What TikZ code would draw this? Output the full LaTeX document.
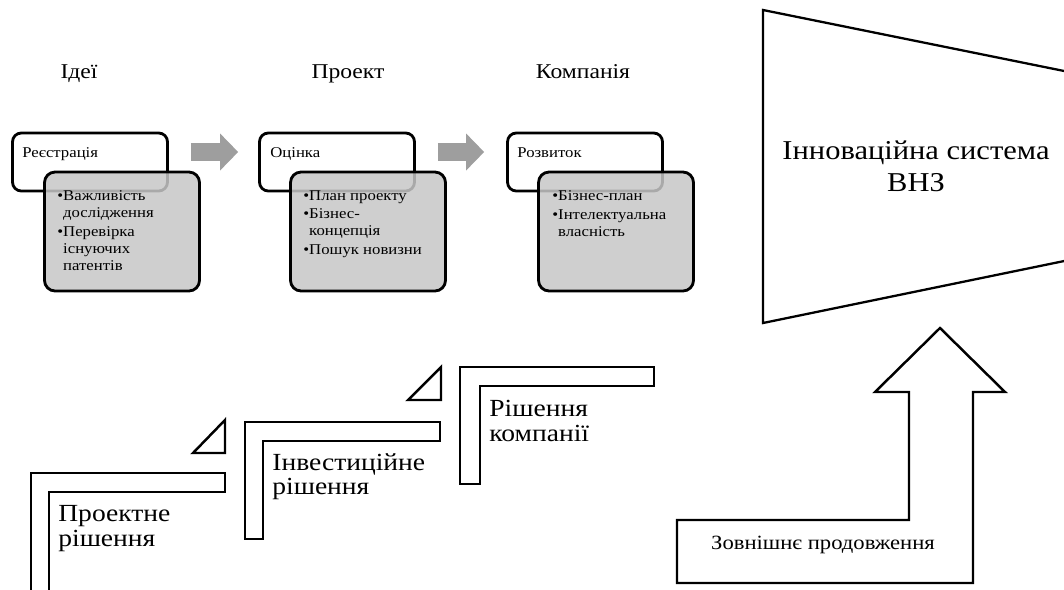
\documentclass[tikz,border=0pt]{standalone}
\usepackage{fontspec}
\setmainfont{Liberation Serif}[FakeStretch=1.12]
\usetikzlibrary{arrows.meta}
\definecolor{boxgray}{gray}{0.78}
\definecolor{flowgray}{gray}{0.62}
\begin{document}
\begin{tikzpicture}[x=0.02cm,y=-0.02cm,stage/.style={font=\fontsize{12}{12}\selectfont,anchor=base},headbox/.style={draw=black,line width=1.6pt,rounded corners=5pt,fill=white,minimum width=3.1cm,minimum height=1.16cm},bodybox/.style={draw=black,line width=1.6pt,rounded corners=6pt,fill=boxgray,fill opacity=0.85,minimum width=3.1cm,minimum height=2.38cm},headtxt/.style={font=\fontsize{8.5}{9.7}\selectfont,anchor=base west,inner sep=0pt},bodytxt/.style={font=\fontsize{8.5}{9.7}\selectfont,anchor=north west,align=left,inner sep=0pt},flow/.style={draw=flowgray,line width=0.36cm,-{Triangle[length=0.36cm,width=0.74cm,line width=0pt]}},stair/.style={draw=black,line width=1.4pt,fill=white},stairtxt/.style={font=\fontsize{14}{14}\selectfont,anchor=north west,align=left,inner sep=0pt},bigtxt/.style={font=\fontsize{15.5}{18}\selectfont,align=center}]
\def\yh{162};
\def\yb{231.5};
\def\yt{78};

\useasboundingbox (0,0) rectangle (1064,589);

\node[stage] (ideas) at (79,\yt) {Ідеї};
\node[stage] (project) at (348,\yt) {Проект};
\node[stage] (company) at (583,\yt) {Компанія};

\node[headbox] (reg) at (90,\yh) {};
\node[bodybox] (regb) at (122,\yb) {};
\node[headtxt] (regt) at (22,157) {Реєстрація};
\node[bodytxt] (regl) at (57,190) {•Важливість\\\phantom{•}дослідження\\[1pt]•Перевірка\\\phantom{•}існуючих\\\phantom{•}патентів};

\node[headbox] (est) at (337,\yh) {};
\node[bodybox] (estb) at (368,\yb) {};
\node[headtxt] (estt) at (270,157) {Оцінка};
\node[bodytxt] (estl) at (303,190) {•План проекту\\[1pt]•Бізнес-\\\phantom{•}концепція\\[1pt]•Пошук новизни};

\node[headbox] (dev) at (585,\yh) {};
\node[bodybox] (devb) at (616,\yb) {};
\node[headtxt] (devt) at (517,157) {Розвиток};
\node[bodytxt] (devl) at (552,190) {•Бізнес-план\\[1pt]•Інтелектуальна\\\phantom{•}власність};

\draw[flow] ([shift={(22,-10)}]reg.east) -- ([shift={(-20,-10)}]est.west);
\draw[flow] ([shift={(22,-10)}]est.east) -- ([shift={(-22,-10)}]dev.west);

\draw[stair] (31,600) -- (31,473) -- (225,473) -- (225,492) -- (49,492) -- (49,600);
\draw[stair] (193,453) -- (225,420) -- (225,453) -- cycle;
\draw[stair] (245,539) -- (245,422) -- (440,422) -- (440,441) -- (263,441) -- (263,539) -- cycle;
\draw[stair] (408,400) -- (441,367) -- (441,400) -- cycle;
\draw[stair] (460,484) -- (460,367) -- (654,367) -- (654,386) -- (480,386) -- (480,484) -- cycle;

\node[stairtxt] (dec1) at (58,505) {Проектне\\рішення};
\node[stairtxt] (dec2) at (272,453) {Інвестиційне\\рішення};
\node[stairtxt] (dec3) at (489,400) {Рішення\\компанії};

\draw[line width=1.3pt] (1072,72.6) -- (763,10) -- (763,323) -- (1072,259.4);
\node[bigtxt] (uni) at (916,166) {Інноваційна система\\ВНЗ};

\draw[line width=1.4pt] (940,328) -- (1005,392) -- (973,392) -- (973,583) -- (677,583) -- (677,520) -- (909,520) -- (909,392) -- (875,392) -- cycle;
\node[stage,font=\fontsize{11.5}{12}\selectfont] (ext) at (823,549) {Зовнішнє продовження};
\end{tikzpicture}
\end{document}
